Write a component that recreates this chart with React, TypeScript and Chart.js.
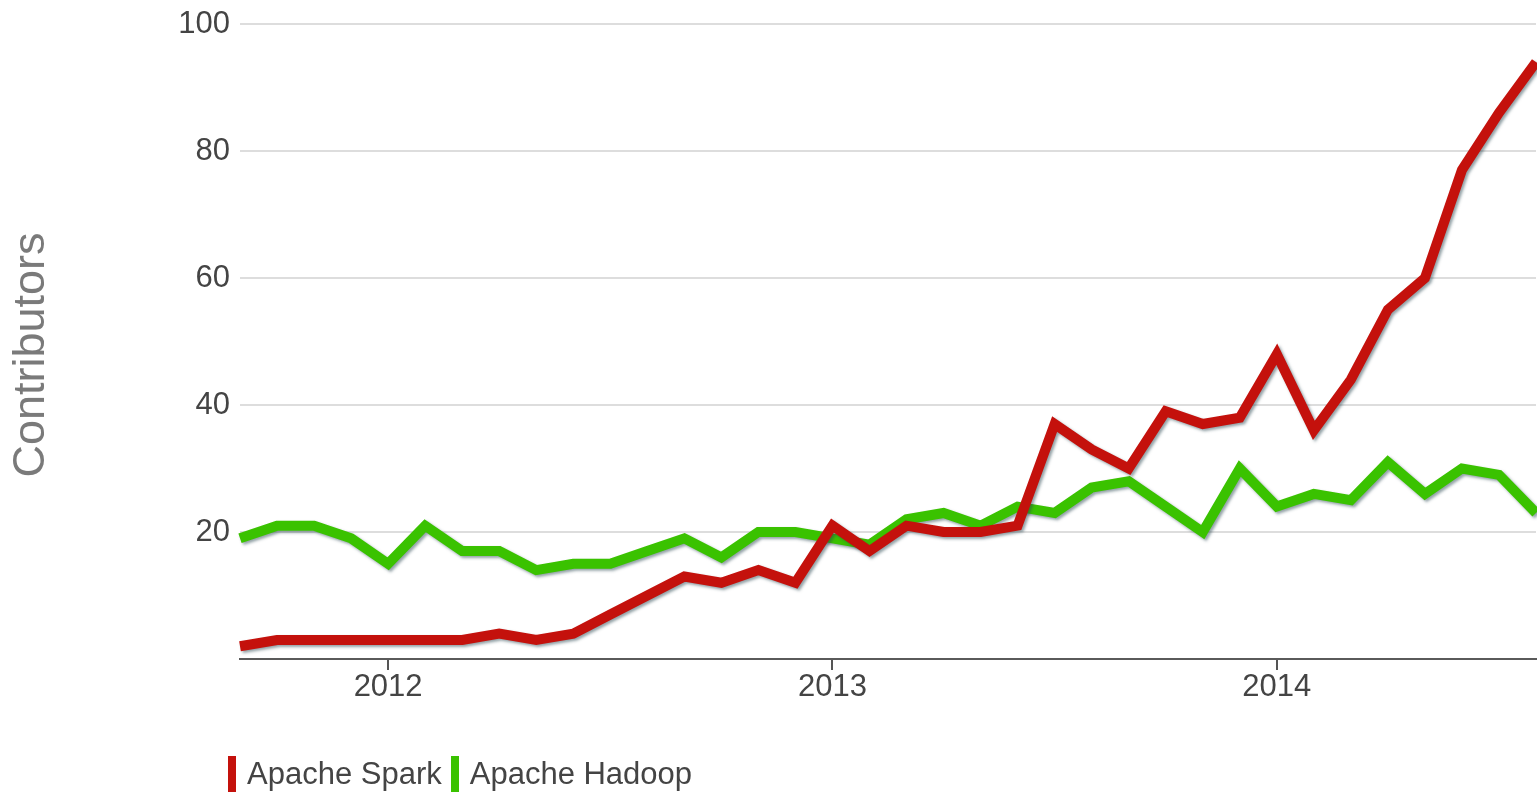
import React, { useEffect, useRef } from 'react';
import { Chart, registerables } from 'chart.js';

Chart.register(...registerables);

const months = [
  '2011-09', '2011-10', '2011-11', '2011-12',
  '2012-01', '2012-02', '2012-03', '2012-04', '2012-05', '2012-06',
  '2012-07', '2012-08', '2012-09', '2012-10', '2012-11', '2012-12',
  '2013-01', '2013-02', '2013-03', '2013-04', '2013-05', '2013-06',
  '2013-07', '2013-08', '2013-09', '2013-10', '2013-11', '2013-12',
  '2014-01', '2014-02', '2014-03', '2014-04', '2014-05', '2014-06',
  '2014-07', '2014-08',
];

const sparkContributors = [
  2, 3, 3, 3,
  3, 3, 3, 4, 3, 4, 7, 10, 13, 12, 14, 12,
  21, 17, 21, 20, 20, 21, 37, 33, 30, 39, 37, 38,
  48, 36, 44, 55, 60, 77, 86, 94,
];

const hadoopContributors = [
  19, 21, 21, 19,
  15, 21, 17, 17, 14, 15, 15, 17, 19, 16, 20, 20,
  19, 18, 22, 23, 21, 24, 23, 27, 28, 24, 20, 30,
  24, 26, 25, 31, 26, 30, 29, 23,
];

const seriesNames = ['Apache Spark', 'Apache Hadoop'];
const seriesColors = ['#c4110c', '#3ac200'];

const yearTickLabels: Record<string, string> = {
  '2012-01': '2012',
  '2013-01': '2013',
  '2014-01': '2014',
};

const yTickValues = [0, 20, 40, 60, 80, 100];
const yAxisTitle = 'Contributors';

const FONT = "'Liberation Sans', Arial, Helvetica, sans-serif";

const lineShadow = {
  id: 'lineShadow',
  beforeDatasetDraw(chart: any) {
    const c = chart.ctx;
    c.save();
    c.shadowColor = 'rgba(40, 70, 80, 0.5)';
    c.shadowBlur = 3;
    c.shadowOffsetX = 2;
    c.shadowOffsetY = 2;
  },
  afterDatasetDraw(chart: any) {
    chart.ctx.restore();
  },
};

export default function App() {
  const canvasRef = useRef<HTMLCanvasElement | null>(null);

  useEffect(() => {
    if (!canvasRef.current) return;
    const chart = new Chart(canvasRef.current, {
      type: 'line',
      data: {
        labels: months,
        datasets: [
          {
            label: seriesNames[0],
            data: sparkContributors,
            borderColor: seriesColors[0],
            backgroundColor: seriesColors[0],
            borderWidth: 10,
            pointRadius: 0,
            tension: 0,
            borderJoinStyle: 'miter',
          },
          {
            label: seriesNames[1],
            data: hadoopContributors,
            borderColor: seriesColors[1],
            backgroundColor: seriesColors[1],
            borderWidth: 10,
            pointRadius: 0,
            tension: 0,
            borderJoinStyle: 'miter',
          },
        ],
      },
      options: {
        responsive: false,
        animation: false,
        layout: { padding: { top: 24, right: 1, bottom: 0, left: 0 } },
        plugins: {
          legend: { display: false },
          tooltip: { enabled: false },
        },
        scales: {
          x: {
            type: 'category',
            offset: false,
            afterFit: (scale: any) => {
              scale.height = 133;
            },
            grid: {
              display: true,
              drawOnChartArea: false,
              drawTicks: true,
              tickLength: 11,
              lineWidth: 2,
              color: (ctx: any) =>
                yearTickLabels[months[ctx.index]] ? '#555555' : 'rgba(0,0,0,0)',
            },
            border: { display: true, color: '#5a5a5a', width: 2 },
            ticks: {
              autoSkip: false,
              maxRotation: 0,
              minRotation: 0,
              padding: -1,
              color: '#444444',
              font: { family: FONT, size: 31 },
              callback: (_v: any, i: number) => yearTickLabels[months[i]] || '',
            },
          },
          y: {
            min: 0,
            max: 100,
            afterFit: (scale: any) => {
              scale.width = 240;
              scale.paddingTop = 0;
              scale.paddingBottom = 0;
            },
            afterBuildTicks: (scale: any) => {
              scale.ticks = yTickValues.map((v) => ({ value: v }));
            },
            grid: {
              drawTicks: false,
              lineWidth: 2,
              color: (ctx: any) =>
                ctx.tick && ctx.tick.value === 0 ? 'rgba(0,0,0,0)' : '#dddddd',
            },
            border: { display: false },
            ticks: {
              padding: 10,
              color: '#444444',
              font: { family: FONT, size: 31 },
              callback: (v: any) => (v === 0 ? '' : String(v)),
            },
            title: { display: false },
          },
        },
      },
      plugins: [lineShadow],
    });
    return () => chart.destroy();
  }, []);

  return (
    <div
      style={{
        position: 'fixed',
        left: 0,
        top: 0,
        width: 1537,
        height: 792,
        background: '#ffffff',
        overflow: 'hidden',
      }}
    >
      <canvas
        ref={canvasRef}
        width={1537}
        height={792}
        style={{ position: 'absolute', left: 0, top: 0, width: 1537, height: 792 }}
      />
      <div
        style={{
          position: 'absolute',
          left: 29 - 160,
          top: 355 - 27,
          width: 320,
          height: 54,
          lineHeight: '54px',
          textAlign: 'center',
          fontFamily: FONT,
          fontSize: 45,
          color: '#7a7a7a',
          transform: 'rotate(-90deg)',
          transformOrigin: '50% 50%',
          whiteSpace: 'nowrap',
        }}
      >
        {yAxisTitle}
      </div>
      <div
        style={{
          position: 'absolute',
          left: 228,
          top: 756,
          display: 'flex',
          alignItems: 'flex-start',
          fontFamily: FONT,
          fontSize: 31,
          lineHeight: '36px',
          color: '#444444',
          whiteSpace: 'nowrap',
        }}
      >
        {seriesNames.map((name, i) => (
          <div key={name} style={{ display: 'flex', alignItems: 'flex-start', marginRight: 9 }}>
            <span
              style={{
                display: 'inline-block',
                width: 8,
                height: 36,
                background: seriesColors[i],
                marginRight: 11,
              }}
            />
            <span>{name}</span>
          </div>
        ))}
      </div>
    </div>
  );
}
